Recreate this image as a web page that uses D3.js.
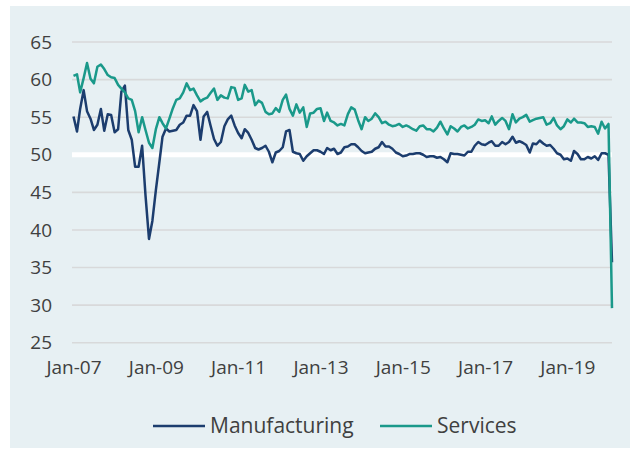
<!DOCTYPE html>
<html>
<head>
<meta charset="utf-8">
<script src="https://cdn.jsdelivr.net/npm/d3@7"></script>
<style>
  body { margin: 0; background: #fff; }
  svg text { font-family: "Open Sans", sans-serif; fill: #404040; }
</style>
</head>
<body>
<svg id="chart" width="630" height="450"></svg>
<script>
// Monthly PMI readings, Jan 2007 .. Feb 2020
var startMonth = new Date(2007, 0, 1);

var manufacturing = [
  55.1, 53.1, 56.1, 58.6, 55.8, 54.8, 53.3, 54.0, 56.1, 53.2, 55.4, 55.3,
  53.0, 53.4, 58.4, 59.2, 53.3, 52.0, 48.4, 48.4, 51.2, 44.6, 38.8, 41.2,
  45.3, 49.0, 52.4, 53.5, 53.1, 53.2, 53.3, 54.0, 54.3, 55.2, 55.2, 56.6,
  55.8, 52.0, 55.1, 55.7, 53.9, 52.1, 51.2, 51.7, 53.8, 54.7, 55.2, 53.9,
  52.9, 52.2, 53.4, 52.9, 52.0, 50.9, 50.7, 50.9, 51.2, 50.4, 49.0, 50.3,
  50.5, 51.0, 53.1, 53.3, 50.4, 50.2, 50.1, 49.2, 49.8, 50.2, 50.6, 50.6,
  50.4, 50.1, 50.9, 50.6, 50.8, 50.1, 50.3, 51.0, 51.1, 51.4, 51.4, 51.0,
  50.5, 50.2, 50.3, 50.4, 50.8, 51.0, 51.7, 51.1, 51.1, 50.8, 50.3, 50.1,
  49.8, 49.9, 50.1, 50.1, 50.2, 50.2, 50.0, 49.7, 49.8, 49.8, 49.6, 49.7,
  49.4, 49.0, 50.2, 50.1, 50.1, 50.0, 49.9, 50.4, 50.4, 51.2, 51.7, 51.4,
  51.3, 51.6, 51.8, 51.2, 51.2, 51.7, 51.4, 51.7, 52.4, 51.6, 51.8, 51.6,
  51.3, 50.3, 51.5, 51.4, 51.9, 51.5, 51.2, 51.3, 50.8, 50.2, 50.0, 49.4,
  49.5, 49.2, 50.5, 50.1, 49.4, 49.4, 49.7, 49.5, 49.8, 49.3, 50.2, 50.2,
  50.0, 35.7
];

var services = [
  60.5, 60.7, 58.3, 60.2, 62.2, 60.1, 59.5, 61.7, 62.0, 61.4, 60.6, 60.3,
  60.2, 59.3, 58.8, 58.3, 57.5, 57.3, 55.8, 53.0, 55.0, 53.3, 51.6, 50.9,
  53.4, 55.0, 54.2, 53.5, 54.8, 56.2, 57.3, 57.5, 58.3, 59.5, 58.6, 58.8,
  57.9, 57.1, 57.4, 57.6, 58.2, 58.8, 57.3, 57.9, 57.6, 57.5, 59.0, 58.9,
  57.3, 57.5, 59.3, 58.4, 58.6, 56.6, 57.2, 56.9, 55.7, 55.4, 55.5, 56.2,
  55.7, 57.3, 58.0, 56.1, 55.2, 56.7, 55.6, 56.3, 53.7, 55.5, 55.6, 56.1,
  56.2, 54.5, 55.6, 54.5, 54.3, 53.9, 54.1, 53.9, 55.4, 56.3, 56.0, 54.6,
  53.4, 55.0, 54.5, 54.8, 55.5, 55.0, 54.2, 54.4, 54.0, 53.8, 53.9, 54.1,
  53.7, 53.9, 53.7, 53.4, 53.2, 53.8, 53.9, 53.4, 53.4, 53.1, 53.6, 54.4,
  53.5, 52.7, 53.8, 53.5, 53.1, 53.7, 53.9, 53.5, 53.7, 54.0, 54.7, 54.5,
  54.6, 54.2, 55.1, 54.0, 54.5, 54.9, 54.5, 53.4, 55.4, 54.3, 54.8, 55.0,
  55.3, 54.4, 54.6, 54.8, 54.9, 55.0, 54.0, 54.2, 54.9, 53.9, 53.4, 53.8,
  54.7, 54.3, 54.8, 54.3, 54.3, 54.2, 53.7, 53.8, 53.7, 52.8, 54.4, 53.5,
  54.1, 29.6
];

var yTicks = [25, 30, 35, 40, 45, 50, 55, 60, 65];
var xTickYears = [2007, 2009, 2011, 2013, 2015, 2017, 2019];
var seriesNames = ["Manufacturing", "Services"];
var seriesColors = ["#1c3d6e", "#1a998a"];

var svg = d3.select("#chart");

// Panel background
svg.append("rect")
  .attr("x", 10).attr("y", 6)
  .attr("width", 620).attr("height", 442)
  .style("fill", "#e7f0f3");

var months = manufacturing.map(function (d, i) {
  return new Date(startMonth.getFullYear(), startMonth.getMonth() + i, 1);
});

var xscale = d3.scaleTime()
  .domain([months[0], months[months.length - 1]])
  .range([73.5, 612]);
var yscale = d3.scaleLinear()
  .domain([25, 65])
  .range([342.7, 42]);

// Gridlines (50 is drawn as a white band)
svg.append("g")
  .selectAll("line")
  .data(yTicks)
  .enter()
  .append("line")
  .attr("x1", 72).attr("x2", 612)
  .attr("y1", function (d) { return yscale(d); })
  .attr("y2", function (d) { return yscale(d); })
  .style("stroke", function (d) { return d === 50 ? "#ffffff" : "#d8d9da"; })
  .style("stroke-width", function (d) { return d === 50 ? 5 : 1.6; });

// Y axis labels
var yaxis = svg.append("g")
  .attr("transform", "translate(60,0)")
  .call(d3.axisLeft(yscale).tickValues(yTicks).tickSize(0).tickPadding(8));
yaxis.select(".domain").remove();
yaxis.selectAll("text")
  .style("font-size", "19px")
  .style("font-family", "'Open Sans', sans-serif")
  .attr("fill", "#404040");

// X axis labels
var xaxis = svg.append("g")
  .attr("transform", "translate(0,353)")
  .call(d3.axisBottom(xscale)
    .tickValues(xTickYears.map(function (y) { return new Date(y, 0, 1); }))
    .tickFormat(d3.timeFormat("%b-%y"))
    .tickSize(0).tickPadding(8));
xaxis.select(".domain").remove();
xaxis.selectAll("text")
  .style("font-size", "19px")
  .style("font-family", "'Open Sans', sans-serif")
  .attr("fill", "#404040");

// Lines
var line = d3.line()
  .x(function (d, i) { return xscale(months[i]); })
  .y(function (d) { return yscale(d); });

[manufacturing, services].forEach(function (s, k) {
  svg.append("path")
    .attr("d", line(s))
    .style("fill", "none")
    .style("stroke", seriesColors[k])
    .style("stroke-width", 2.5)
    .style("stroke-linejoin", "round");
});

// Legend
var legendX = [153, 380];
var legend = svg.append("g");
seriesNames.forEach(function (name, k) {
  legend.append("line")
    .attr("x1", legendX[k]).attr("x2", legendX[k] + 52)
    .attr("y1", 426).attr("y2", 426)
    .style("stroke", seriesColors[k])
    .style("stroke-width", 2.5);
  legend.append("text")
    .attr("x", legendX[k] + 57).attr("y", 433)
    .style("font-size", "21px")
    .text(name);
});
</script>
</body>
</html>
